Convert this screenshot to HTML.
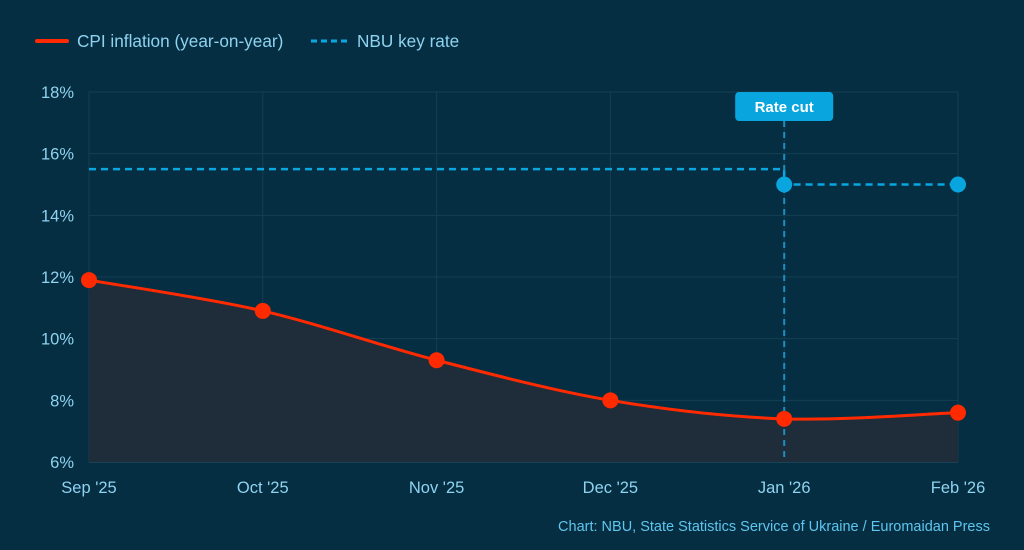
<!DOCTYPE html>
<html><head><meta charset="utf-8"><style>
body{margin:0;background:#052e42;}
svg{display:block;font-family:"Liberation Sans",sans-serif;}
</style></head><body>
<svg id="chart" width="1024" height="550">
<rect width="1024" height="550" fill="#052e42"/>
<g>
<g><line x1="37" y1="41" x2="67" y2="41" stroke="#ff2a00" stroke-width="4" stroke-linecap="round"/><text x="77" y="47" fill="#8fd3f0" font-size="17.2">CPI inflation (year-on-year)</text></g>
<g><line x1="311" y1="41" x2="347" y2="41" stroke="#0aa6e0" stroke-width="3" stroke-dasharray="6,4"/><text x="357" y="47" fill="#8fd3f0" font-size="17.2">NBU key rate</text></g>
</g>
<g id="grid"></g><g id="axes"></g><g id="marks"></g>
<text x="990" y="531" text-anchor="end" fill="#5ec6ee" font-size="14.5">Chart: NBU, State Statistics Service of Ukraine / Euromaidan Press</text>
</svg>
<script>
const categories=["Sep '25","Oct '25","Nov '25","Dec '25","Jan '26","Feb '26"];
const cpiValues=[11.9,10.9,9.3,8.0,7.4,7.6];
const rateValues=[15.5,15.5,15.5,15.5,15,15];
const yTicks=[6,8,10,12,14,16,18];
const annotationLabel="Rate cut";
const annotationIndex=4;
const NS="http://www.w3.org/2000/svg";
const x0=89,x1=958,yTop=92,yBot=462,yMin=6,yMax=18;
const xs=i=>x0+i*(x1-x0)/(categories.length-1);
const ys=v=>yBot-(v-yMin)/(yMax-yMin)*(yBot-yTop);
function mk(tag,attrs,parent){const e=document.createElementNS(NS,tag);for(const k in attrs)e.setAttribute(k,attrs[k]);document.getElementById(parent).appendChild(e);return e;}
yTicks.forEach(t=>{
 const l=mk('line',{x1:x0,x2:x1,y1:ys(t),y2:ys(t),stroke:'#143f52','stroke-width':1},'grid');
 
 
 const tx=mk('text',{x:74,y:ys(t)+6,'text-anchor':'end',fill:'#8fd3f0','font-size':16.5},'axes');tx.textContent=t+'%';
 
 
});
categories.forEach((c,i)=>{
 const l=mk('line',{x1:xs(i),x2:xs(i),y1:yTop,y2:yBot,stroke:'#143f52','stroke-width':1},'grid');
 
 
 const tx=mk('text',{x:xs(i),y:493,'text-anchor':'middle',fill:'#8fd3f0','font-size':16.5},'axes');tx.textContent=c;
 
 
});
const ax=mk('line',{x1:x0,x2:x1,y1:yBot,y2:yBot,stroke:'#2c5568','stroke-width':1},'axes');


const pts=cpiValues.map((v,i)=>[xs(i),ys(v)]);
let d=`M${pts[0][0]},${pts[0][1]}`;
for(let i=0;i<pts.length-1;i++){
 const p0=pts[Math.max(0,i-1)],p1=pts[i],p2=pts[i+1],p3=pts[Math.min(pts.length-1,i+2)];
 const t=0.16;
 d+=` C${p1[0]+(p2[0]-p0[0])*t},${p1[1]+(p2[1]-p0[1])*t} ${p2[0]-(p3[0]-p1[0])*t},${p2[1]-(p3[1]-p1[1])*t} ${p2[0]},${p2[1]}`;
}
const area=mk('path',{d:d+` L${x1},${yBot} L${x0},${yBot} Z`,fill:'#1f2d3a'},'marks');


let rd=`M${xs(0)},${ys(rateValues[0])}`;
for(let i=1;i<rateValues.length;i++){
 if(rateValues[i]!==rateValues[i-1]) rd+=` L${xs(i)},${ys(rateValues[i-1])} L${xs(i)},${ys(rateValues[i])}`;
 else rd+=` L${xs(i)},${ys(rateValues[i])}`;
}
const rl=mk('path',{d:rd,fill:'none',stroke:'#0aa6e0','stroke-width':2.5,'stroke-dasharray':'7,5'},'marks');


const ann=mk('line',{x1:xs(annotationIndex),x2:xs(annotationIndex),y1:121,y2:yBot,stroke:'#1b8fc0','stroke-width':2,'stroke-dasharray':'6,5'},'marks');


const box=mk('rect',{x:xs(annotationIndex)-49,y:92,width:98,height:29,rx:4,fill:'#08a5df'},'marks');


const at=mk('text',{x:xs(annotationIndex),y:112,'text-anchor':'middle',fill:'#fff','font-size':15,'font-weight':'bold'},'marks');at.textContent=annotationLabel;


const cl=mk('path',{d:d,fill:'none',stroke:'#ff2a00','stroke-width':3},'marks');


rateValues.forEach((v,i)=>{
 if(i<annotationIndex)return;
 const c=mk('circle',{cx:xs(i),cy:ys(v),r:8,fill:'#08a5df'},'marks');
 
 
});
cpiValues.forEach((v,i)=>{
 const c=mk('circle',{cx:xs(i),cy:ys(v),r:8,fill:'#ff2a00'},'marks');
 
 
});
</script>
</body></html>
